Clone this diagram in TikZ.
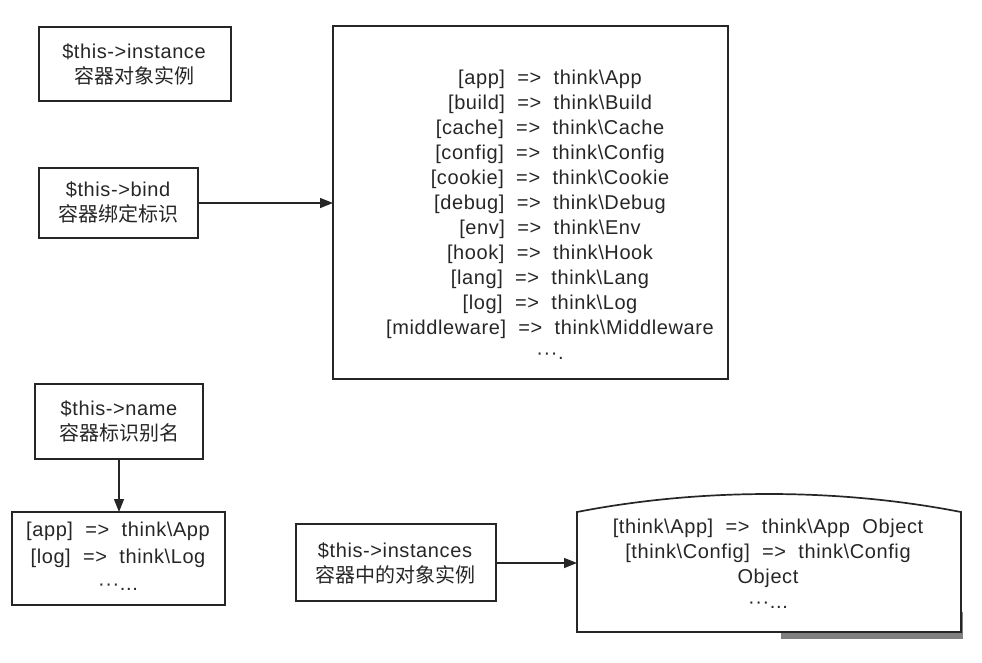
\documentclass[tikz,border=0pt]{standalone}
\usepackage{fontspec}
\setmainfont{Liberation Sans}[LetterSpace=3]
\newfontfamily\cjk{Noto Sans CJK SC}
\usetikzlibrary{arrows.meta}
\newcommand{\bs}{\textbackslash}
\begin{document}
\begin{tikzpicture}[x=1pt,y=-1pt,
  box/.style={draw=black!85,line width=1.7pt},
  txt/.style={align=center,inner sep=0pt,font=\fontsize{20}{25}\selectfont,text=black!85},
  conn/.style={draw=black!85,line width=1.4pt,-{Triangle[length=13pt,width=10pt]}}]
\useasboundingbox (0,0) rectangle (982,662);
% boxes
\draw[box] (39,27) rectangle (231,101);
\node[txt] (tinst) at (134,64.5) {\$this->instance\\{\cjk 容器对象实例}};
\draw[box] (39,168) rectangle (198,238);
\coordinate (bindR) at (198,203);
\node[txt] (tbind) at (118,202) {\$this->bind\\{\cjk 容器绑定标识}};
\draw[box] (333,26) rectangle (728,379);
\coordinate (bigL) at (333,203);
\node[txt] (tbig) at (550,214.5) {{[app]}\ \ =>\ \ think\bs App\\{}%
{[build]}\ \ =>\ \ think\bs Build\\{}%
{[cache]}\ \ =>\ \ think\bs Cache\\{}%
{[config]}\ \ =>\ \ think\bs Config\\{}%
{[cookie]}\ \ =>\ \ think\bs Cookie\\{}%
{[debug]}\ \ =>\ \ think\bs Debug\\{}%
{[env]}\ \ =>\ \ think\bs Env\\{}%
{[hook]}\ \ =>\ \ think\bs Hook\\{}%
{[lang]}\ \ =>\ \ think\bs Lang\\{}%
{[log]}\ \ =>\ \ think\bs Log\\{}%
{[middleware]}\ \ =>\ \ think\bs Middleware\\{}%
···.};
\draw[box] (35,384) rectangle (203,459);
\coordinate (nameB) at (119,459);
\node[txt] (tname) at (119,421) {\$this->name\\{\cjk 容器标识别名}};
\draw[box] (12,512) rectangle (225,605);
\coordinate (alT) at (119,512);
\node[txt] (tal) at (118,556) {{[app]}\ \ =>\ \ think\bs App\\[2pt]%
{[log]}\ \ =>\ \ think\bs Log\\[2pt]%
···...};
\draw[box] (296,524) rectangle (496,601);
\coordinate (instR) at (496,563);
\node[txt] (tinsts) at (395,563.5) {\$this->instances\\{\cjk 容器中的对象实例}};
% document shape with shadow
\fill[black!50] (781,612) rectangle (963,639);
\draw[box,fill=white] (577,632) -- (577,512) .. controls (700,488) and (838,488) .. (961,512) -- (961,632) -- cycle;
\coordinate (docL) at (577,563);
\node[txt] (tdoc) at (768,563.5) {{[think\bs App]}\ \ =>\ \ think\bs App\ \ Object\\{}%
{[think\bs Config]}\ \ =>\ \ think\bs Config\\{}%
Object\\{}%
···...};
% connectors
\draw[conn] (bindR) -- (bigL);
\draw[conn] (nameB) -- (alT);
\draw[conn] (instR) -- (docL);
\end{tikzpicture}
\end{document}
